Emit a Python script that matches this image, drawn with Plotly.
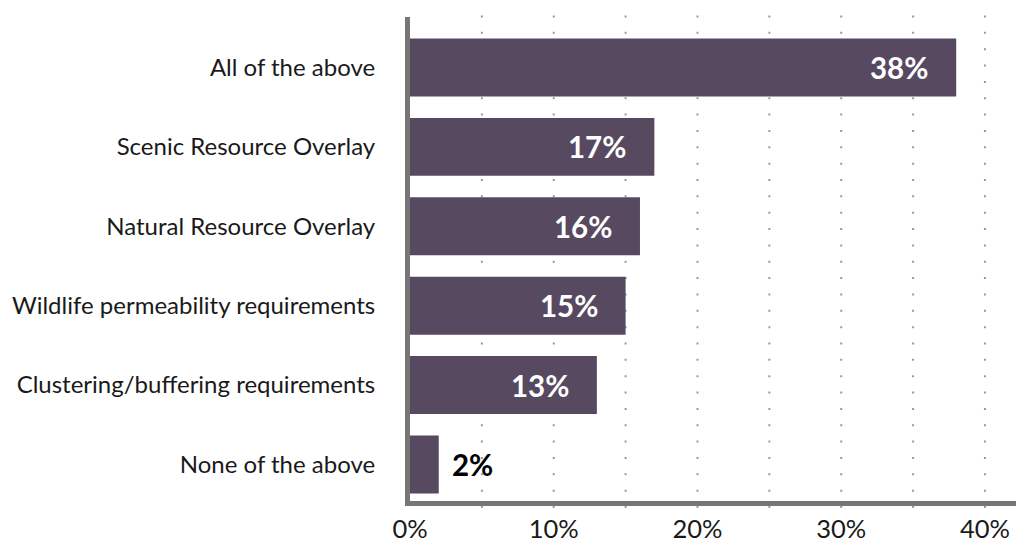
import plotly.graph_objects as go

categories = ["None of the above", "Clustering/buffering requirements",
              "Wildlife permeability requirements", "Natural Resource Overlay",
              "Scenic Resource Overlay", "All of the above"]
values = [2, 13, 15, 16, 17, 38]
labels = ["2%", "13%", "15%", "16%", "17%", "38%"]
x_ticks = [0, 10, 20, 30, 40]
x_tick_text = ["0%", "10%", "20%", "30%", "40%"]
grid_vals = [5, 10, 15, 20, 25, 30, 35, 40]

BAR = "#574a60"
AXIS = "#767676"
FONT = "Lato, 'Noto Sans', sans-serif"

fig = go.Figure()
fig.add_trace(go.Bar(
    x=values, y=categories, orientation="h",
    marker=dict(color=BAR, line=dict(width=0)),
    width=0.73, hoverinfo="skip",
))

# dotted vertical gridlines extending slightly beyond plot area
for g in grid_vals:
    fig.add_shape(type="line", xref="x", yref="paper",
                  x0=g, x1=g, y0=-0.0145, y1=1.021,
                  line=dict(color="#9a9a9a", width=2, dash="2px,14.35px"),
                  layer="below")

annotations = []
for c, v, t in zip(categories, values, labels):
    if v >= 5:
        annotations.append(dict(x=v, y=c, xref="x", yref="y", text="<b>" + t + "</b>",
                                showarrow=False, xanchor="right", xshift=-26,
                                font=dict(family=FONT, size=29.5, color="white")))
    else:
        annotations.append(dict(x=v, y=c, xref="x", yref="y", text="<b>" + t + "</b>",
                                showarrow=False, xanchor="left", xshift=11,
                                font=dict(family=FONT, size=29.5, color="black")))

fig.update_layout(
    template="none",
    width=1016, height=541,
    margin=dict(l=410, r=0, t=17, b=40, pad=0),
    paper_bgcolor="white", plot_bgcolor="white",
    showlegend=False,
    annotations=annotations,
    font=dict(family=FONT, color="#1a1a1a"),
    xaxis=dict(range=[0, 42.16], tickvals=x_ticks, ticktext=x_tick_text,
               automargin=False,
               showgrid=False, zeroline=False, showline=True,
               linecolor=AXIS, linewidth=5,
               ticks="outside", ticklen=1, tickcolor="rgba(0,0,0,0)",
               tickfont=dict(family=FONT, size=25.5, color="#1a1a1a"),
               fixedrange=True),
    yaxis=dict(range=[-0.46, 5.636], automargin=False,
               showgrid=False, zeroline=False,
               showline=True, linecolor=AXIS, linewidth=5,
               ticks="outside", ticklen=25, tickcolor="rgba(0,0,0,0)",
               tickfont=dict(family=FONT, size=24, color="#1a1a1a"),
               fixedrange=True),
)

fig.write_html("out.html", config={"displayModeBar": False},
               post_script="document.body.style.margin='0';document.body.style.padding='0';")
